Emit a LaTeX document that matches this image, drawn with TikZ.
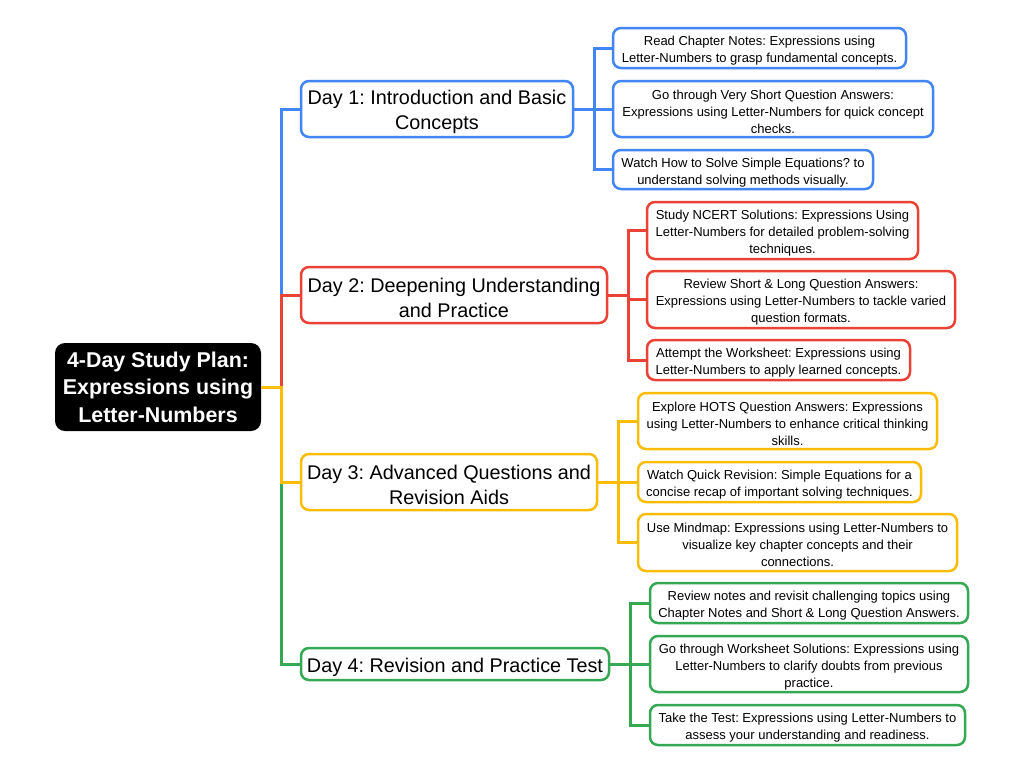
\documentclass[tikz,border=0pt]{standalone}
\usepackage{fontspec}
\setmainfont{Liberation Sans}
\newcommand\padk{\rule{0pt}{15pt}}
\newcommand\padd{\rule{0pt}{20.5pt}}
\begin{document}
\frenchspacing
\begin{tikzpicture}[x=1pt,y=-1pt,
  box/.style={draw=#1,line width=2.5pt,rounded corners=8pt,fill=white,align=center,inner sep=0pt,text=black},
  kid/.style={box=#1,font=\frenchspacing\fontsize{13}{17}\selectfont},
  day/.style={box=#1,font=\frenchspacing\fontsize{19.8}{25.5}\selectfont},
  link/.style={draw=#1,line width=3pt},
]
\definecolor{cb}{RGB}{66,133,244}
\definecolor{cr}{RGB}{234,67,53}
\definecolor{cy}{RGB}{251,188,5}
\definecolor{cg}{RGB}{52,168,83}
\useasboundingbox (0,0) rectangle (1024,774);
\fill[white] (0,0) rectangle (1024,774);

\node[fill=black,rounded corners=10pt,text=white,align=center,inner sep=0pt,
  minimum width=206pt,minimum height=88pt,font=\frenchspacing\bfseries\fontsize{21.4}{27.5}\selectfont]
  (root) at (158,387) {4-Day Study Plan:\\Expressions using\\Letter-Numbers};

\node[day=cb,minimum width=272pt,minimum height=56pt] (d1) at (437,109) {\padd Day 1: Introduction and Basic\\Concepts};
\node[day=cr,minimum width=306pt,minimum height=56pt] (d2) at (454,295) {\padd Day 2: Deepening Understanding\\and Practice};
\node[day=cy,minimum width=296pt,minimum height=56pt] (d3) at (449,482) {\padd Day 3: Advanced Questions and\\Revision Aids};
\node[day=cg,minimum width=308pt,minimum height=32pt] (d4) at (455,664) {\padd Day 4: Revision and Practice Test};

\node[kid=cb,minimum width=293pt,minimum height=40pt] (c11) at (759.5,48) {\padk Read Chapter Notes: Expressions using\\Letter-Numbers to grasp fundamental concepts.};
\node[kid=cb,minimum width=320pt,minimum height=56pt] (c12) at (773,109) {\padk Go through Very Short Question Answers:\\Expressions using Letter-Numbers for quick concept\\checks.};
\node[kid=cb,minimum width=260pt,minimum height=39pt] (c13) at (743,169.5) {\padk Watch How to Solve Simple Equations? to\\understand solving methods visually.};

\node[kid=cr,minimum width=271pt,minimum height=57pt] (c21) at (782.5,230.5) {\padk Study NCERT Solutions: Expressions Using\\Letter-Numbers for detailed problem-solving\\techniques.};
\node[kid=cr,minimum width=308pt,minimum height=57pt] (c22) at (801,299.5) {\padk Review Short \& Long Question Answers:\\Expressions using Letter-Numbers to tackle varied\\question formats.};
\node[kid=cr,minimum width=263pt,minimum height=40pt] (c23) at (778.5,360) {\padk Attempt the Worksheet: Expressions using\\Letter-Numbers to apply learned concepts.};

\node[kid=cy,minimum width=299pt,minimum height=56pt] (c31) at (787.5,421) {\padk Explore HOTS Question Answers: Expressions\\using Letter-Numbers to enhance critical thinking\\skills.};
\node[kid=cy,minimum width=283pt,minimum height=40pt] (c32) at (779.5,482) {\padk Watch Quick Revision: Simple Equations for a\\concise recap of important solving techniques.};
\node[kid=cy,minimum width=319pt,minimum height=57pt] (c33) at (797.5,542.5) {\padk Use Mindmap: Expressions using Letter-Numbers to\\visualize key chapter concepts and their\\connections.};

\node[kid=cg,minimum width=318pt,minimum height=40pt] (c41) at (809,603) {\padk Review notes and revisit challenging topics using\\Chapter Notes and Short \& Long Question Answers.};
\node[kid=cg,minimum width=318pt,minimum height=56pt] (c42) at (809,664) {\padk Go through Worksheet Solutions: Expressions using\\Letter-Numbers to clarify doubts from previous\\practice.};
\node[kid=cg,minimum width=315pt,minimum height=40pt] (c43) at (807.5,725) {\padk Take the Test: Expressions using Letter-Numbers to\\assess your understanding and readiness.};

\path[link=cb] (root.east) -- ++(20,0) |- (d1.west);
\path[link=cr] (root.east) -- ++(20,0) |- (d2.west);
\path[link=cg] (root.east) -- ++(20,0) |- (d4.west);
\path[link=cy] (root.east) -- ++(20,0) |- (d3.west);

\foreach \k in {1,2,3} \path[link=cb] (d1.east) -- ++(20,0) |- (c1\k.west);
\foreach \k in {1,2,3} \path[link=cr] (d2.east) -- ++(20,0) |- (c2\k.west);
\foreach \k in {1,2,3} \path[link=cy] (d3.east) -- ++(20.5,0) |- (c3\k.west);
\foreach \k in {1,2,3} \path[link=cg] (d4.east) -- ++(20.5,0) |- (c4\k.west);
\end{tikzpicture}
\end{document}
